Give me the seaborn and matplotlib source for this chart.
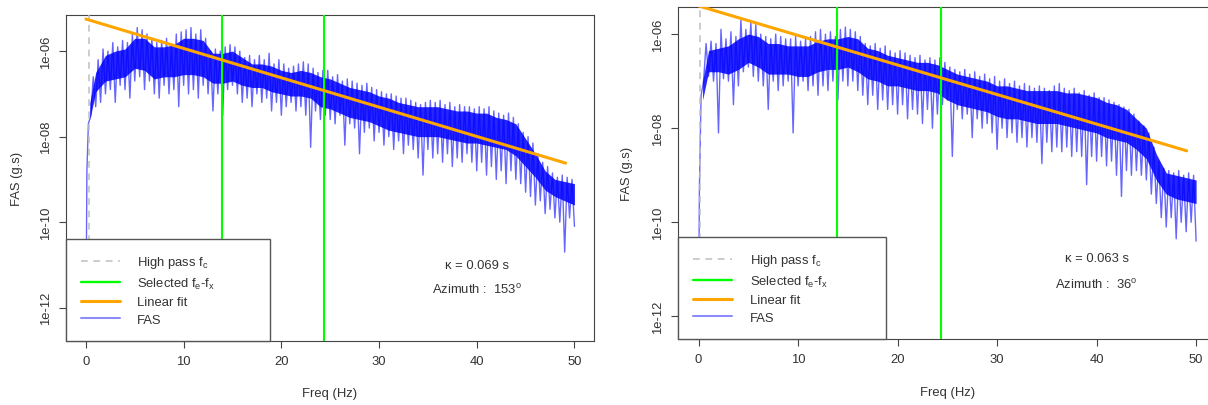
import numpy as np
import pandas as pd
import matplotlib
matplotlib.use("Agg")
import matplotlib.pyplot as plt
import seaborn as sns
from matplotlib.lines import Line2D
from matplotlib.ticker import NullLocator

sns.set_style("white")
plt.rcParams["font.family"] = ["Liberation Sans", "DejaVu Sans"]
plt.rcParams["mathtext.fontset"] = "custom"
plt.rcParams["mathtext.rm"] = "Liberation Sans"
plt.rcParams["mathtext.it"] = "Liberation Sans:italic"

# ---------------- data (log10 of FAS) ----------------
# first points near 0 Hz
left_start_f = [0.0, 0.1]
left_start_log = [-12.5, -8.8]
# local maxima at 0.25, 0.75, ... 49.75 Hz
left_peak_log = [
    -7.7, -6.6, -6.2, -5.95, -6.0, -5.8, -5.9, -5.75, -5.8, -5.6,
    -5.45, -5.5, -5.6, -5.7, -5.8, -5.75, -5.7, -5.9, -5.6, -5.55,
    -5.5, -5.45, -5.6, -5.5, -5.7, -6.0, -5.95, -6.0, -5.9, -5.85,
    -5.9, -6.0, -6.15, -6.1, -6.2, -6.1, -6.2, -6.05, -6.3, -6.2,
    -6.3, -6.4, -6.35, -6.3, -6.25, -6.3, -6.4, -6.5, -6.45, -6.45,
    -6.6, -6.55, -6.7, -6.65, -6.7, -6.75, -6.8, -6.75, -6.85, -6.9,
    -6.95, -7.0, -7.0, -7.05, -7.1, -7.1, -7.15, -7.2, -7.25, -7.2,
    -7.15, -7.2, -7.15, -7.25, -7.2, -7.3, -7.25, -7.3, -7.3, -7.35,
    -7.3, -7.35, -7.3, -7.4, -7.45, -7.5, -7.45, -7.55, -7.7, -7.9,
    -8.0, -8.15, -8.4, -8.6, -8.7, -8.85, -8.95, -8.9, -8.95, -9.0,
]
# local minima at 0.5, 1.0, ... 50.0 Hz
left_trough_log = [
    -7.5, -7.3, -7.2, -7.0, -6.9, -7.2, -6.8, -6.9, -7.1, -6.7,
    -6.6, -6.9, -6.7, -7.0, -7.1, -6.8, -7.0, -6.9, -7.3, -6.8,
    -7.0, -6.9, -7.1, -6.8, -7.0, -7.4, -7.0, -7.5, -6.9, -6.8,
    -7.0, -7.2, -7.1, -7.3, -7.0, -7.2, -7.1, -7.4, -7.2, -7.5,
    -7.3, -7.2, -7.4, -7.3, -7.5, -8.25, -7.4, -7.6, -7.5, -7.6,
    -7.7, -7.5, -8.2, -7.7, -7.8, -8.4, -7.9, -7.8, -8.1, -7.9,
    -8.2, -8.0, -8.3, -8.1, -8.4, -8.2, -8.3, -8.5, -8.9, -8.3,
    -8.5, -8.4, -8.6, -8.4, -8.7, -8.5, -8.6, -8.4, -8.6, -8.8,
    -8.6, -8.9, -8.7, -9.0, -8.8, -9.1, -8.8, -9.0, -9.1, -9.3,
    -9.4, -9.6, -9.5, -9.8, -9.7, -9.9, -10.0, -10.7, -9.9, -10.1,
]
# dense (saturated) part of the spectrum at 0.4, 1, 2, ... 50 Hz
core_f = [0.4] + list(range(1, 51))
left_core_top_log = [
    -7.2, -6.5, -6.1, -6.0, -5.95, -5.7, -5.7, -5.9, -5.9, -5.85,
    -5.7, -5.7, -5.75, -6.05, -6.05, -6.0, -6.15, -6.3, -6.3, -6.35,
    -6.45, -6.5, -6.45, -6.5, -6.6, -6.65, -6.75, -6.85, -6.9, -6.95,
    -7.05, -7.1, -7.2, -7.25, -7.3, -7.3, -7.3, -7.35, -7.4, -7.4,
    -7.45, -7.45, -7.55, -7.6, -7.7, -8.05, -8.4, -8.8, -9.0, -9.05,
    -9.1,
]
left_core_bottom_log = [
    -7.6, -6.95, -6.7, -6.65, -6.6, -6.4, -6.45, -6.65, -6.6, -6.6,
    -6.55, -6.55, -6.6, -6.75, -6.75, -6.7, -6.8, -6.85, -6.85, -6.95,
    -7.0, -7.05, -7.05, -7.1, -7.3, -7.35, -7.45, -7.55, -7.6, -7.65,
    -7.75, -7.85, -7.9, -7.95, -8.0, -8.0, -8.0, -8.05, -8.1, -8.15,
    -8.15, -8.2, -8.25, -8.3, -8.45, -8.7, -8.95, -9.25, -9.4, -9.5,
    -9.6,
]
left_fit_f = [0.0, 49.1]
left_fit_log = [-5.25, -8.62]

right_start_f = [0.0, 0.08]
right_start_log = [-12.2, -9.3]
right_peak_log = [
    -7.3, -6.2, -6.15, -6.2, -5.9, -6.1, -5.95, -6.05, -5.7, -5.9,
    -5.75, -5.8, -6.0, -6.05, -6.1, -6.0, -6.05, -6.1, -6.1, -6.05,
    -6.15, -6.1, -6.05, -5.95, -5.9, -6.0, -5.95, -6.05, -5.9, -5.85,
    -5.9, -5.95, -6.05, -6.2, -6.25, -6.2, -6.3, -6.25, -6.35, -6.4,
    -6.35, -6.4, -6.45, -6.5, -6.45, -6.55, -6.5, -6.55, -6.5, -6.6,
    -6.7, -6.75, -6.8, -6.75, -6.85, -6.8, -6.9, -6.85, -6.95, -6.9,
    -7.0, -6.95, -7.05, -7.0, -7.1, -7.05, -7.1, -7.15, -7.1, -7.15,
    -7.2, -7.1, -7.05, -7.15, -7.2, -7.15, -7.25, -7.2, -7.3, -7.25,
    -7.35, -7.35, -7.4, -7.45, -7.5, -7.55, -7.6, -7.7, -7.85, -7.95,
    -8.1, -8.4, -8.7, -8.85, -8.9, -8.95, -8.9, -9.0, -8.95, -9.0,
]
right_trough_log = [
    -7.0, -6.9, -7.0, -8.1, -6.95, -7.0, -7.5, -7.1, -6.8, -6.7,
    -6.9, -7.0, -7.1, -7.6, -7.0, -7.2, -7.1, -7.0, -8.1, -7.1,
    -7.0, -7.2, -7.1, -7.3, -7.1, -7.2, -7.0, -7.4, -7.0, -7.1,
    -7.0, -7.2, -7.3, -7.5, -7.3, -7.6, -7.4, -7.6, -7.5, -7.7,
    -7.5, -7.8, -7.6, -7.7, -7.9, -7.6, -8.0, -7.7, -7.5, -7.4,
    -8.6, -7.6, -7.8, -7.7, -8.2, -7.8, -8.0, -7.9, -8.1, -8.45,
    -8.0, -8.2, -8.1, -8.3, -8.2, -8.4, -8.2, -8.3, -8.75, -8.3,
    -8.5, -8.4, -8.5, -8.4, -8.6, -8.5, -8.6, -9.2, -8.6, -8.7,
    -8.6, -8.8, -8.7, -9.0, -9.45, -8.9, -9.0, -8.9, -9.0, -9.1,
    -9.4, -9.6, -9.9, -10.1, -9.9, -10.35, -10.0, -10.2, -10.0, -10.4,
]
right_core_top_log = [
    -7.0, -6.35, -6.3, -6.25, -6.1, -6.0, -6.05, -6.2, -6.2, -6.25,
    -6.25, -6.25, -6.15, -6.1, -6.1, -6.05, -6.1, -6.3, -6.35, -6.45,
    -6.5, -6.55, -6.6, -6.6, -6.65, -6.75, -6.85, -6.9, -6.95, -7.0,
    -7.1, -7.1, -7.15, -7.2, -7.2, -7.2, -7.2, -7.25, -7.25, -7.3,
    -7.35, -7.45, -7.5, -7.6, -7.8, -8.0, -8.55, -8.95, -9.0, -9.05,
    -9.1,
]
right_core_bottom_log = [
    -7.4, -6.8, -6.8, -6.85, -6.75, -6.6, -6.7, -6.85, -6.85, -6.85,
    -6.9, -6.9, -6.8, -6.75, -6.75, -6.7, -6.8, -6.95, -7.0, -7.1,
    -7.1, -7.15, -7.2, -7.2, -7.25, -7.4, -7.5, -7.55, -7.6, -7.65,
    -7.75, -7.8, -7.8, -7.85, -7.9, -7.9, -7.9, -7.95, -8.0, -8.05,
    -8.1, -8.2, -8.25, -8.3, -8.45, -8.65, -9.1, -9.4, -9.5, -9.55,
    -9.6,
]
right_fit_f = [0.0, 49.05]
right_fit_log = [-5.40, -8.48]

highpass_f = [0.35, 0.12]
selected_f = [13.9, 24.4]
kappa_labels = ["κ = 0.069 s", "κ = 0.063 s"]
azimuth_labels = [r"Azimuth :  153$^{\mathrm{o}}$", r"Azimuth :  36$^{\mathrm{o}}$"]
x_ticks = [0, 10, 20, 30, 40, 50]
y_ticks = [1e-12, 1e-10, 1e-8, 1e-6]
y_tick_labels = ["1e-12", "1e-10", "1e-08", "1e-06"]
legend_labels = ["High pass f$_{\\mathrm{c}}$",
                 "Selected f$_{\\mathrm{e}}$-f$_{\\mathrm{x}}$",
                 "Linear fit", "FAS"]


def build(start_f, start_log, peaks, troughs):
    n = len(peaks)
    f = np.empty(2 * n)
    v = np.empty(2 * n)
    f[0::2] = 0.25 + 0.5 * np.arange(n)
    f[1::2] = 0.5 + 0.5 * np.arange(n)
    v[0::2] = peaks
    v[1::2] = troughs
    f = np.concatenate([start_f, f])
    v = np.concatenate([start_log, v])
    return pd.DataFrame({"freq": f, "fas": 10.0 ** v})


panels = [
    dict(df=build(left_start_f, left_start_log, left_peak_log, left_trough_log),
         core=(left_core_top_log, left_core_bottom_log),
         fit_f=left_fit_f, fit_log=left_fit_log,
         rect=[66 / 1208, (406 - 342) / 406, 528 / 1208, 326 / 406],
         ylog=(-12.78, -5.155), txt_log=(-11.0, -11.55),
         leg_w=204 / 528, ylab_x=-0.0814, xlab_y=-0.1426),
    dict(df=build(right_start_f, right_start_log, right_peak_log, right_trough_log),
         core=(right_core_top_log, right_core_bottom_log),
         fit_f=right_fit_f, fit_log=right_fit_log,
         rect=[678.3 / 1208, (406 - 340) / 406, 537.7 / 1208, 331.7 / 406],
         ylog=(-12.48, -5.43), txt_log=(-10.76, -11.31),
         leg_w=208 / 537.7, ylab_x=-0.0839, xlab_y=-0.141),
]

FS = 9.4
TXT = "#333333"
fig = plt.figure(figsize=(12.08, 4.06), dpi=100)

for i, p in enumerate(panels):
    ax = fig.add_axes(p["rect"])
    ax.set_yscale("log")
    ax.fill_between(core_f, 10.0 ** np.array(p["core"][0]), 10.0 ** np.array(p["core"][1]),
                    color="#0000ff", alpha=0.85, lw=0, zorder=1.5)
    sns.lineplot(data=p["df"], x="freq", y="fas", estimator=None, sort=False,
                 color="#0000ff", alpha=0.6, lw=1.0, ax=ax, zorder=2)
    ax.axvline(highpass_f[i], color="#bebebe", lw=1.1, ls=(0, (4.4, 3.7)), zorder=3)
    for fs in selected_f:
        ax.axvline(fs, color="#00ff00", lw=1.5, zorder=3)
    sns.lineplot(x=p["fit_f"], y=10.0 ** np.array(p["fit_log"]), estimator=None,
                 sort=False, color="#ffa500", lw=2.2, ax=ax, zorder=4)

    ax.set_xlim(-2.04, 52.0)
    ax.set_ylim(10 ** p["ylog"][0], 10 ** p["ylog"][1])
    ax.set_xticks(x_ticks)
    ax.set_xticklabels([str(t) for t in x_ticks])
    ax.set_yticks(y_ticks)
    ax.set_yticklabels(y_tick_labels, rotation=90, va="center")
    ax.yaxis.set_minor_locator(NullLocator())
    ax.tick_params(axis="both", which="major", direction="out", length=5, width=0.8,
                   color="#444444", labelcolor=TXT, labelsize=FS, bottom=True, left=True)
    ax.tick_params(axis="x", pad=5.4)
    ax.tick_params(axis="y", pad=5.2)
    for s in ax.spines.values():
        s.set_visible(True)
        s.set_color("#444444")
        s.set_linewidth(0.8)

    ax.set_xlabel("Freq (Hz)", fontsize=FS, color=TXT)
    ax.set_ylabel("FAS (g.s)", fontsize=FS, color=TXT)
    ax.yaxis.set_label_coords(p["ylab_x"], 0.5)
    ax.xaxis.set_label_coords(0.5, p["xlab_y"])

    ax.text(40, 10 ** p["txt_log"][0], kappa_labels[i], ha="center", va="center",
            fontsize=FS, color=TXT)
    ax.text(40, 10 ** p["txt_log"][1], azimuth_labels[i], ha="center", va="center",
            fontsize=FS, color=TXT)

    handles = [Line2D([], [], color="#bebebe", lw=1.1, ls=(0, (4.4, 3.7))),
               Line2D([], [], color="#00ff00", lw=1.7),
               Line2D([], [], color="#ffa500", lw=2.2),
               Line2D([], [], color="#0000ff", alpha=0.45, lw=1.5)]
    leg = ax.legend(handles, legend_labels, loc="lower left",
                    bbox_to_anchor=(0, 0, p["leg_w"], 0.3), mode="expand",
                    borderaxespad=0, frameon=True, fancybox=False,
                    edgecolor="#555555", framealpha=1, fontsize=FS,
                    handlelength=2.95, handletextpad=1.36, borderpad=1.15,
                    labelspacing=0.42)
    leg.get_frame().set_linewidth(1.0)
    for t in leg.get_texts():
        t.set_color(TXT)
    leg.set_zorder(10)

fig.savefig("out.png", dpi=100)
